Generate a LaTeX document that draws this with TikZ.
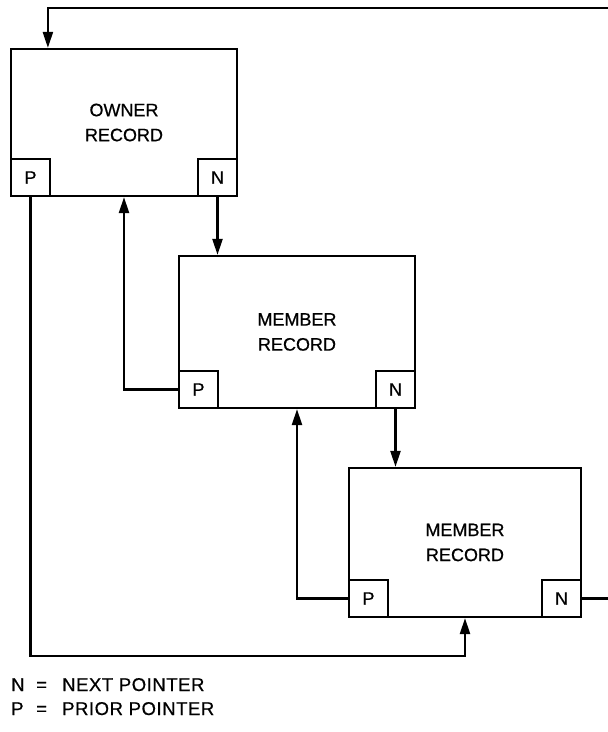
\documentclass[tikz,border=0pt]{standalone}
\usepackage{fontspec}
\setmainfont{Liberation Sans}
\newfontfamily\recfont[FakeBold=0.6]{Liberation Sans}
\newfontfamily\keyfont[FakeBold=0.6, LetterSpace=3]{Liberation Sans}
\usetikzlibrary{arrows.meta}

\tikzset{
  record/.style={draw, line width=2.2pt, align=center, inner sep=0pt,
    font=\recfont\fontsize{18}{25}\selectfont},
  ptr/.style={draw, line width=2.2pt, minimum width=39pt, minimum height=37pt,
    inner sep=0pt, font=\recfont\fontsize{18}{20}\selectfont},
  link/.style={line width=2.2pt, -{Triangle[width=10pt,length=16pt]}},
  legend/.style={inner sep=0pt, font=\keyfont\fontsize{18.5}{20}\selectfont}
}

\begin{document}
\begin{tikzpicture}[x=1pt, y=-1pt]
  \path[use as bounding box, clip] (0,0) rectangle (608,732);

  % records
  \node[record, minimum width=226pt, minimum height=147pt] (owner) at (124,122.5) {OWNER\\RECORD};
  \node[record, minimum width=236pt, minimum height=152pt] (memA) at (297,332) {MEMBER\\RECORD};
  \node[record, minimum width=232pt, minimum height=149pt] (memB) at (465,542.5) {MEMBER\\RECORD};

  % pointer fields
  \node[ptr, anchor=south west] (ownerP) at (owner.south west) {P};
  \node[ptr, anchor=south east] (ownerN) at (owner.south east) {N};
  \node[ptr, anchor=south west] (memAP) at (memA.south west) {P};
  \node[ptr, anchor=south east] (memAN) at (memA.south east) {N};
  \node[ptr, anchor=south west] (memBP) at (memB.south west) {P};
  \node[ptr, anchor=south east] (memBN) at (memB.south east) {N};

  \coordinate (loopR) at (620,8);
  \coordinate (loopB) at (0,656);

  % next chain
  \draw[link] (ownerN.south) -- (ownerN.south |- memA.north);
  \draw[link] (memAN.south) -- (memAN.south |- memB.north);
  \draw[link] (memBN.east) -| (loopR) -| ([xshift=38pt]owner.north west);

  % prior chain
  \draw[link] (memAP.west) -| (owner.south);
  \draw[link] (memBP.west) -| (memA.south);
  \draw[link] (ownerP.south) |- (memB.south |- loopB) -- (memB.south);

  % key
  \node[legend, anchor=base west] (keyN) at (11,691) {N};
  \node[legend, anchor=base west] (eqN) at (36,691) {=};
  \node[legend, anchor=base west] (txtN) at (62,691) {NEXT POINTER};
  \node[legend, anchor=base west] (keyP) at (11,715) {P};
  \node[legend, anchor=base west] (eqP) at (36,715) {=};
  \node[legend, anchor=base west] (txtP) at (62,715) {PRIOR POINTER};
\end{tikzpicture}
\end{document}
